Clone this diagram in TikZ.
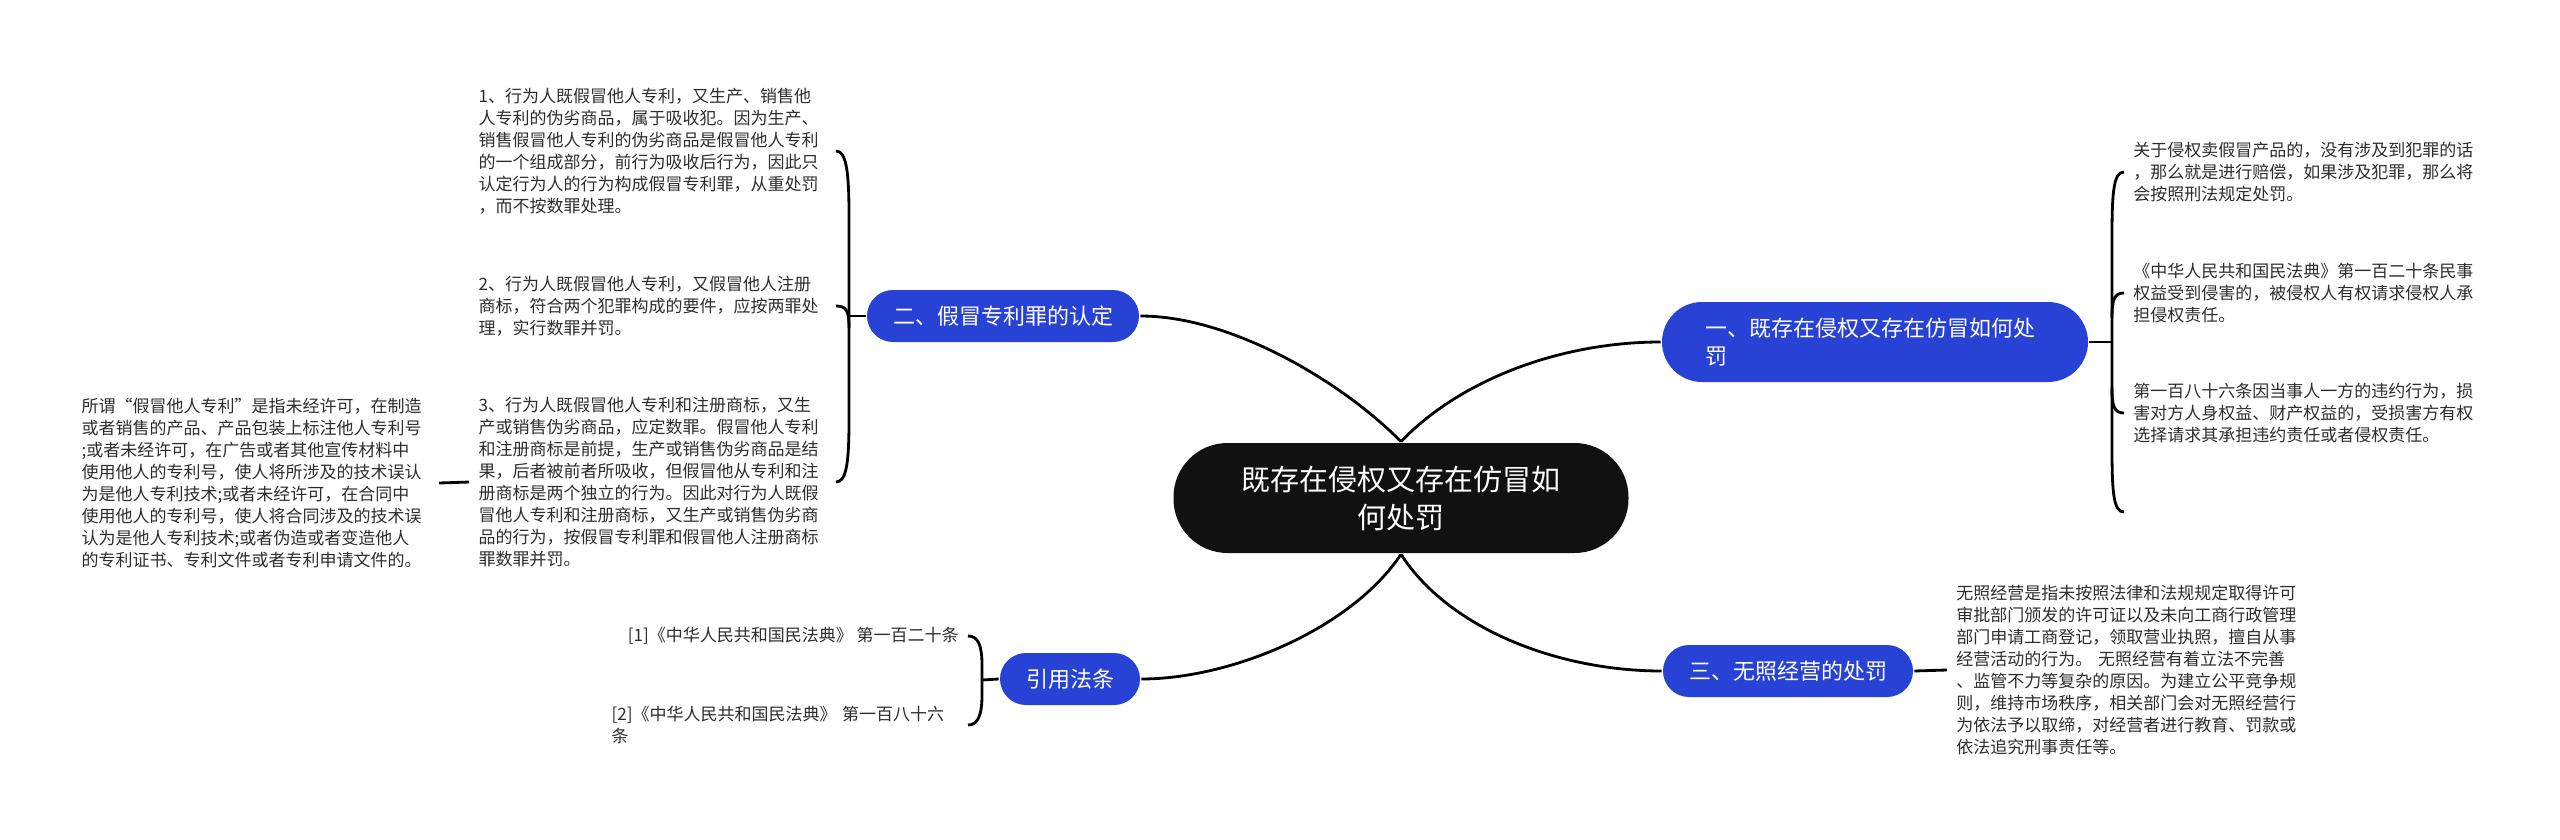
\documentclass[tikz,border=0pt]{standalone}
\usepackage{fontspec}
\newfontfamily\cjkfont{Noto Sans CJK SC}
\definecolor{branchblue}{RGB}{41,66,214}
\definecolor{rootblack}{RGB}{17,17,17}
\definecolor{leafgray}{RGB}{45,45,45}

\begin{document}
\begin{tikzpicture}[x=1pt,y=-1pt,line width=2.8pt,
    root/.style={fill=rootblack,text=white,rounded corners=54,minimum width=455,minimum height=110,
        align=center,font=\cjkfont\fontsize{29}{38}\selectfont},
    branch/.style={fill=branchblue,text=white,rounded corners=26,minimum height=52,inner xsep=26,
        font=\cjkfont\fontsize{22}{28}\selectfont},
    leaf/.style={text=leafgray,inner xsep=8,inner ysep=4,align=left,
        font=\cjkfont\fontsize{17}{22}\selectfont}]
    \useasboundingbox (0,0) rectangle (2560,840);
    % root
    \node[root] (root) at (1401,498) {既存在侵权又存在仿冒如\\何处罚};
    % branches
    \node[branch,rounded corners=40,minimum height=80,text width=340,inner xsep=43,align=left] (b1) at (1875,342)
        {一、既存在侵权又存在仿冒如何处\\罚};
    \node[branch] (b2) at (1003,316) {二、假冒专利罪的认定};
    \node[branch] (b3) at (1788,671) {三、无照经营的处罚};
    \node[branch] (b4) at (1070,679) {引用法条};
    \draw (root.north) .. controls (1340,380) and (1230,316) .. (b2.east);
    \draw (root.north) .. controls (1460,380) and (1560,342) .. (b1.west);
    \draw (root.south) .. controls (1350,630) and (1230,679) .. (b4.east);
    \draw (root.south) .. controls (1450,630) and (1560,671) .. (b3.west);
    % leaves of b2
    \node[leaf,text width=348,anchor=east] (l21) at (836,151) {1、行为人既假冒他人专利，又生产、销售他\\
        人专利的伪劣商品，属于吸收犯。因为生产、\\销售假冒他人专利的伪劣商品是假冒他人专利\\
        的一个组成部分，前行为吸收后行为，因此只\\认定行为人的行为构成假冒专利罪，从重处罚\\，而不按数罪处理。};
    \node[leaf,text width=348,anchor=east] (l22) at (836,306) {2、行为人既假冒他人专利，又假冒他人注册\\
        商标，符合两个犯罪构成的要件，应按两罪处\\理，实行数罪并罚。};
    \node[leaf,text width=348,anchor=east] (l23) at (836,482) {3、行为人既假冒他人专利和注册商标，又生\\
        产或销售伪劣商品，应定数罪。假冒他人专利\\和注册商标是前提，生产或销售伪劣商品是结\\
        果，后者被前者所吸收，但假冒他从专利和注\\册商标是两个独立的行为。因此对行为人既假\\
        冒他人专利和注册商标，又生产或销售伪劣商\\品的行为，按假冒专利罪和假冒他人注册商标\\罪数罪并罚。};
    \node[leaf,text width=348,anchor=east] (l231) at (439,483) {所谓“假冒他人专利”是指未经许可，在制造\\
        或者销售的产品、产品包装上标注他人专利号\\;或者未经许可，在广告或者其他宣传材料中\\
        使用他人的专利号，使人将所涉及的技术误认\\为是他人专利技术;或者未经许可，在合同中\\
        使用他人的专利号，使人将合同涉及的技术误\\认为是他人专利技术;或者伪造或者变造他人\\
        的专利证书、专利文件或者专利申请文件的。};
    \coordinate (j2) at (849,316);
    \draw (l21.east) .. controls (846,151) and (849,170) .. (849,215) -- (849,420)
        .. controls (849,465) and (846,482) .. (l23.east);
    \draw (l22.east) .. controls (846,306) and (849,310) .. (849,328);
    \draw (j2) -- (b2.west);
    \draw (l231.east) -- (l23.west);
    % leaves of b1
    \node[leaf,text width=350,anchor=west] (la) at (2124,172) {关于侵权卖假冒产品的，没有涉及到犯罪的话\\
        ，那么就是进行赔偿，如果涉及犯罪，那么将\\会按照刑法规定处罚。};
    \node[leaf,text width=350,anchor=west] (lb) at (2124,293) {《中华人民共和国民法典》第一百二十条民事\\
        权益受到侵害的，被侵权人有权请求侵权人承\\担侵权责任。};
    \node[leaf,text width=350,anchor=west] (lc) at (2124,413) {第一百八十六条因当事人一方的违约行为，损\\
        害对方人身权益、财产权益的，受损害方有权\\选择请求其承担违约责任或者侵权责任。};
    \coordinate (j1) at (2112,342);
    \coordinate (e1) at (2124,512);
    \draw (la.west) .. controls (2114,172) and (2112,190) .. (2112,235) -- (2112,450)
        .. controls (2112,495) and (2114,512) .. (e1);
    \draw (lb.west) .. controls (2114,293) and (2112,300) .. (2112,318);
    \draw (lc.west) .. controls (2114,413) and (2112,406) .. (2112,388);
    \draw (b1.east) -- (j1);
    % leaf of b3
    \node[leaf,text width=350,anchor=west] (l31) at (1947,670) {无照经营是指未按照法律和法规规定取得许可\\
        审批部门颁发的许可证以及未向工商行政管理\\部门申请工商登记，领取营业执照，擅自从事\\
        经营活动的行为。 无照经营有着立法不完善\\、监管不力等复杂的原因。为建立公平竞争规\\
        则，维持市场秩序，相关部门会对无照经营行\\为依法予以取缔，对经营者进行教育、罚款或\\依法追究刑事责任等。};
    \draw (b3.east) -- (l31.west);
    % leaves of b4
    \node[leaf,anchor=east] (lr1) at (968,636) {[1]《中华人民共和国民法典》 第一百二十条};
    \node[leaf,text width=347,anchor=east] (lr2) at (968,725) {[2]《中华人民共和国民法典》 第一百八十六\\条};
    \coordinate (j4) at (982,680);
    \draw (lr1.east) .. controls (978,636) and (982,645) .. (982,665) -- (982,695)
        .. controls (982,715) and (978,725) .. (lr2.east);
    \draw (j4) -- (b4.west);
\end{tikzpicture}
\end{document}
